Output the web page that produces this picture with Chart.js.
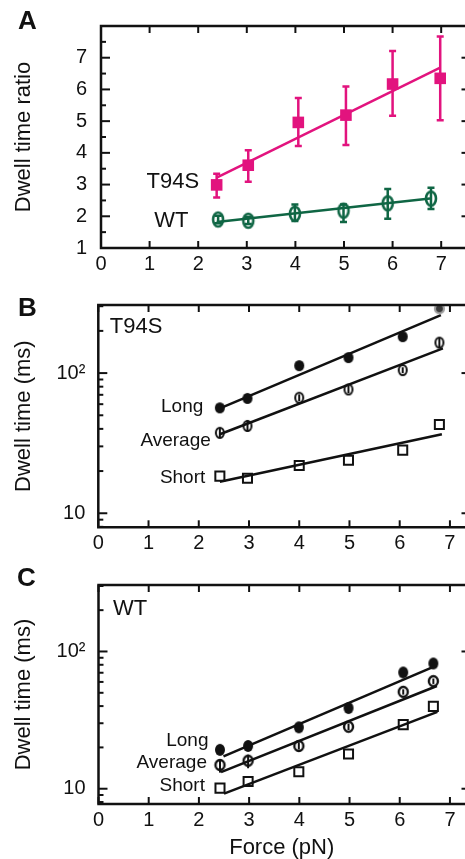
<!DOCTYPE html>
<html>
<head>
<meta charset="utf-8">
<script src="https://cdn.jsdelivr.net/npm/chart.js@4.4.1/dist/chart.umd.min.js"></script>
<style>
  body { margin:0; width:465px; height:859px; overflow:hidden; background:#fff; position:relative; font-family:"Liberation Sans", Arial, sans-serif; }
  canvas { position:absolute; left:0; }
  .tag { position:absolute; font-weight:bold; font-size:26px; line-height:26px; color:#111; }
</style>
</head>
<body>
<canvas id="chartA" width="465" height="280" style="top:0"></canvas>
<canvas id="chartB" width="465" height="280" style="top:280px"></canvas>
<canvas id="chartC" width="465" height="299" style="top:560px"></canvas>
<div class="tag" style="left:18px;top:7px">A</div>
<div class="tag" style="left:18px;top:294px">B</div>
<div class="tag" style="left:17px;top:564px">C</div>
<script>
const FONT = '"Liberation Sans", Arial, Helvetica, sans-serif';
const INK = '#111';
const PINK = '#e2137e';
const GREEN = '#0f6644';

// --- panel A: dwell time ratio ---
const forceT94S = [2.38, 3.03, 4.06, 5.04, 6.0, 6.98];
const ratioT94S = [2.99, 3.61, 4.96, 5.19, 6.17, 6.35];
const ratioT94SLow = [2.59, 3.09, 4.22, 4.25, 5.17, 5.03];
const ratioT94SHigh = [3.34, 4.08, 5.73, 6.09, 7.21, 7.67];
const fitT94SX = [2.38, 6.98];
const fitT94SY = [3.22, 6.69];

const forceWT = [2.41, 3.03, 3.99, 4.99, 5.9, 6.79];
const ratioWT = [1.9, 1.86, 2.08, 2.18, 2.41, 2.56];
const ratioWTLow = [1.78, 1.76, 1.85, 1.82, 1.92, 2.23];
const ratioWTHigh = [2.02, 1.98, 2.37, 2.37, 2.86, 2.9];
const fitWTX = [2.38, 6.77];
const fitWTY = [1.82, 2.56];

// --- panel B: T94S dwell times (ms) ---
const forceB = [2.42, 2.97, 4.0, 4.98, 6.06, 6.79];
const longB = [56.5, 66, 113, 129, 182, 288];
const avgB = [37.5, 42, 66.7, 76.4, 105, 165];
const avgBLow = [34.2, 38.1, 63, 72, 100, 152];
const avgBHigh = [40.6, 46.1, 70.5, 81, 110, 178];
const shortB = [18.4, 17.8, 21.9, 23.9, 28.2, 43];
const fitLongBX = [2.42, 6.82], fitLongBY = [56, 259];
const fitAvgBX = [2.42, 6.86], fitAvgBY = [36.6, 150];
const fitShortBX = [2.42, 6.84], fitShortBY = [16.8, 36.6];

// --- panel C: WT dwell times (ms) ---
const forceC = [2.42, 2.98, 3.99, 4.98, 6.07, 6.67];
const longC = [19.2, 20.5, 28, 38.7, 70.3, 81.8];
const avgC = [14.9, 16, 20.5, 28.3, 50.8, 60.8];
const avgCLow = [13.1, 14.1, 19.3, 26.8, 48.5, 58];
const avgCHigh = [16.3, 17.7, 21.8, 29.8, 53, 63.5];
const shortC = [10.1, 11.3, 13.3, 17.9, 29.3, 39.8];
const fitLongCX = [2.49, 6.74], fitLongCY = [17.2, 79.3];
const fitAvgCX = [2.44, 6.74], fitAvgCY = [13.2, 56];
const fitShortCX = [2.5, 6.75], fitShortCY = [9.2, 36.3];

// tick values
const forceTicks = [0, 1, 2, 3, 4, 5, 6, 7];
const ratioTicks = [1, 1.5, 2, 2.5, 3, 3.5, 4, 4.5, 5, 5.5, 6, 6.5, 7, 7.5];
const logTicks = [8, 9, 10, 20, 30, 40, 50, 60, 70, 80, 90, 100, 200, 300];

function marker(kind, w, h, color, lw) {
    const pad = Math.ceil(lw) + 1;
    const c = document.createElement('canvas');
    c.width = w + pad * 2;
    c.height = h + pad * 2;
    const g = c.getContext('2d');
    const cx = c.width / 2, cy = c.height / 2;
    g.strokeStyle = color;
    g.fillStyle = color;
    g.lineWidth = lw;
    g.beginPath();
    g.ellipse(cx, cy, w / 2, h / 2, 0, 0, Math.PI * 2);
    if (kind === 'dot') g.fill();
    else if (kind === 'grey') {
        g.fillStyle = '#3a3a3a';
        g.fill();
        g.strokeStyle = '#a0a0a0';
        g.stroke();
    } else g.stroke();
    return c;
}

function pts(xs, ys) {
    return xs.map((x, i) => ({x: x, y: ys[i]}));
}

function markSet(xs, ys, extra) {
    return Object.assign({data: pts(xs, ys), showLine: false, pointRadius: 6, order: 1}, extra);
}

function fitSet(xs, ys, color, w) {
    return {data: pts(xs, ys), showLine: true, borderColor: color, borderWidth: w, pointRadius: 0, order: 2};
}

// frame with inward ticks (the right edge of the box lies just outside the picture),
// error bars and the text labels inside the plots
const framePlugin = {
    id: 'frame',
    beforeDatasetsDraw(chart, args, opts) {
        const {ctx, scales: {x, y}} = chart;
        (opts.bars || []).forEach(b => {
            ctx.save();
            ctx.strokeStyle = b.color;
            ctx.lineWidth = b.width;
            b.xs.forEach((xv, i) => {
                const px = x.getPixelForValue(xv);
                const lo = y.getPixelForValue(b.lo[i]);
                const hi = y.getPixelForValue(b.hi[i]);
                ctx.beginPath();
                ctx.moveTo(px, lo); ctx.lineTo(px, hi);
                if (b.cap) {
                    ctx.moveTo(px - b.cap, lo); ctx.lineTo(px + b.cap, lo);
                    ctx.moveTo(px - b.cap, hi); ctx.lineTo(px + b.cap, hi);
                }
                ctx.stroke();
            });
            ctx.restore();
        });
    },
    afterDraw(chart, args, opts) {
        const {ctx, chartArea: a, scales: {x, y}} = chart;
        ctx.save();
        ctx.strokeStyle = INK;
        ctx.lineWidth = 2;
        const line = (x1, y1, x2, y2) => { ctx.beginPath(); ctx.moveTo(x1, y1); ctx.lineTo(x2, y2); ctx.stroke(); };
        x.ticks.forEach(t => {
            const px = x.getPixelForValue(t.value);
            line(px, a.bottom, px, a.bottom - 7);
            line(px, a.top, px, a.top + 7);
        });
        y.ticks.forEach(t => {
            const py = y.getPixelForValue(t.value);
            const major = t.label !== '';
            line(a.left, py, a.left + (major ? 9 : 5), py);
            if (major) line(a.right, py, a.right - 3.5, py);
        });
        ctx.lineWidth = 2.5;
        ctx.beginPath();
        ctx.moveTo(a.right, a.top);
        ctx.lineTo(a.left, a.top);
        ctx.lineTo(a.left, a.bottom);
        ctx.lineTo(a.right, a.bottom);
        ctx.stroke();
        (opts.notes || []).forEach(n => {
            ctx.font = n.size + 'px ' + FONT;
            ctx.fillStyle = INK;
            ctx.textAlign = n.align;
            ctx.textBaseline = 'middle';
            ctx.fillText(n.text, x.getPixelForValue(n.x), y.getPixelForValue(n.y));
        });
        ctx.restore();
    }
};

function options(p) {
    return {
        responsive: false,
        animation: false,
        events: [],
        layout: {autoPadding: false, padding: {top: p.top, right: 0, left: 0, bottom: 0}},
        plugins: {
            legend: {display: false},
            tooltip: {enabled: false},
            frame: {bars: p.bars, notes: p.notes}
        },
        scales: {
            x: {
                type: 'linear', min: 0, max: p.xMax,
                grid: {display: false, drawTicks: false},
                border: {display: false},
                ticks: {font: {family: FONT, size: 20}, color: INK, padding: 4, autoSkip: false, maxRotation: 0,
                        callback: v => String(v)},
                afterBuildTicks: s => { s.ticks = forceTicks.map(v => ({value: v})); },
                afterFit: s => { s.height = p.xHeight; },
                title: p.xTitle
                    ? {display: true, text: p.xTitle, color: INK, font: {family: FONT, size: 22, lineHeight: 1}, padding: {top: 0, bottom: 0}}
                    : {display: false}
            },
            y: {
                type: p.yType, min: p.yMin, max: p.yMax,
                grid: {display: false, drawTicks: false},
                border: {display: false},
                ticks: {font: {family: FONT, size: 20}, color: INK, padding: p.yPad, autoSkip: false,
                        callback: p.yLabel},
                afterBuildTicks: s => { s.ticks = p.yTicks.map(v => ({value: v})); },
                afterFit: s => { s.width = p.yWidth; },
                title: {display: true, text: p.yTitle, color: INK, font: {family: FONT, size: 22}, padding: {top: 11, bottom: 0}}
            }
        }
    };
}

const logLabel = v => v === 10 ? '10' : (v === 100 ? '10²' : '');

new Chart(document.getElementById('chartA'), {
    type: 'scatter',
    data: {
        datasets: [
            markSet(forceT94S, ratioT94S, {pointStyle: 'rect', pointRadius: 8.2, pointBackgroundColor: PINK, pointBorderWidth: 0}),
            markSet(forceWT, ratioWT, {pointStyle: marker('ring', 10, 14, GREEN, 2.6)}),
            fitSet(fitT94SX, fitT94SY, PINK, 2.5),
            fitSet(fitWTX, fitWTY, GREEN, 2.5)
        ]
    },
    options: options({
        top: 22.5, xMax: 7.49, xHeight: 32, yWidth: 101, yPad: 14,
        yType: 'linear', yMin: 1, yMax: 8, yTicks: ratioTicks,
        yLabel: v => Number.isInteger(v) ? String(v) : '',
        yTitle: 'Dwell time ratio',
        bars: [
            {xs: forceT94S, lo: ratioT94SLow, hi: ratioT94SHigh, color: PINK, width: 2.5, cap: 3.5},
            {xs: forceWT, lo: ratioWTLow, hi: ratioWTHigh, color: GREEN, width: 2.5, cap: 3.5}
        ],
        notes: [
            {text: 'T94S', x: 2.02, y: 3.07, align: 'right', size: 22},
            {text: 'WT', x: 1.80, y: 1.85, align: 'right', size: 22}
        ]
    }),
    plugins: [framePlugin]
});

new Chart(document.getElementById('chartB'), {
    type: 'scatter',
    data: {
        datasets: [
            markSet(forceB, longB, {pointStyle: [0, 1, 2, 3, 4].map(() => marker('dot', 10, 11, INK, 1)).concat([marker('grey', 9, 9, INK, 2.2)])}),
            markSet(forceB, avgB, {pointStyle: marker('ring', 8, 10, INK, 2)}),
            markSet(forceB, shortB, {pointStyle: 'rect', pointRadius: 6.4, pointBackgroundColor: 'rgba(0,0,0,0)', pointBorderColor: INK, pointBorderWidth: 2}),
            fitSet(fitLongBX, fitLongBY, INK, 2.5),
            fitSet(fitAvgBX, fitAvgBY, INK, 2.5),
            fitSet(fitShortBX, fitShortBY, INK, 2.5)
        ]
    },
    options: options({
        top: 25, xMax: 7.3, xHeight: 32.7, yWidth: 98.3, yPad: 13,
        yType: 'logarithmic', yMin: 7.94, yMax: 306, yTicks: logTicks,
        yLabel: logLabel,
        yTitle: 'Dwell time (ms)',
        bars: [
            {xs: forceB, lo: avgBLow, hi: avgBHigh, color: INK, width: 2, cap: 0}
        ],
        notes: [
            {text: 'T94S', x: 0.23, y: 214, align: 'left', size: 22},
            {text: 'Long', x: 2.09, y: 57.4, align: 'right', size: 19},
            {text: 'Average', x: 2.24, y: 32.7, align: 'right', size: 19},
            {text: 'Short', x: 2.13, y: 18.0, align: 'right', size: 19}
        ]
    }),
    plugins: [framePlugin]
});

new Chart(document.getElementById('chartC'), {
    type: 'scatter',
    data: {
        datasets: [
            markSet(forceC, longC, {pointStyle: marker('dot', 10, 12, INK, 1)}),
            markSet(forceC, avgC, {pointStyle: marker('ring', 9, 10, INK, 2.4)}),
            markSet(forceC, shortC, {pointStyle: 'rect', pointRadius: 6.4, pointBackgroundColor: 'rgba(0,0,0,0)', pointBorderColor: INK, pointBorderWidth: 2}),
            fitSet(fitLongCX, fitLongCY, INK, 2.5),
            fitSet(fitAvgCX, fitAvgCY, INK, 2.5),
            fitSet(fitShortCX, fitShortCY, INK, 2.5)
        ]
    },
    options: options({
        top: 18, xMax: 7.3, xHeight: 55, yWidth: 98.5, yPad: 13,
        yType: 'logarithmic', yMin: 7.74, yMax: 305, yTicks: logTicks,
        yLabel: logLabel,
        yTitle: 'Dwell time (ms)',
        xTitle: 'Force (pN)',
        bars: [
            {xs: forceC, lo: avgCLow, hi: avgCHigh, color: INK, width: 2, cap: 0}
        ],
        notes: [
            {text: 'WT', x: 0.29, y: 205, align: 'left', size: 22},
            {text: 'Long', x: 2.19, y: 22.5, align: 'right', size: 19},
            {text: 'Average', x: 2.16, y: 15.4, align: 'right', size: 19},
            {text: 'Short', x: 2.12, y: 10.5, align: 'right', size: 19}
        ]
    }),
    plugins: [framePlugin]
});
</script>
</body>
</html>
